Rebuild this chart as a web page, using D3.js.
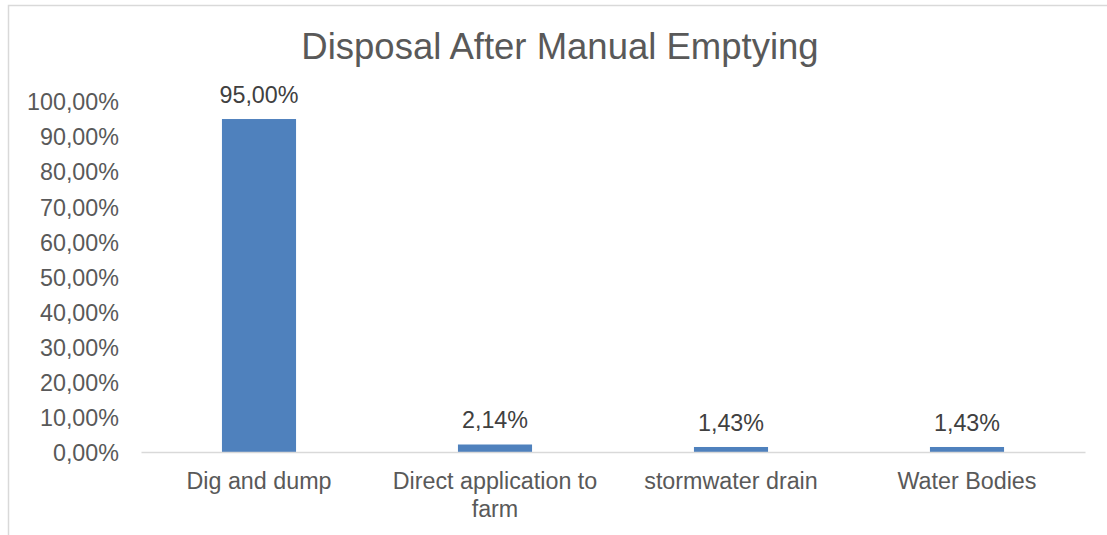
<!DOCTYPE html>
<html>
<head>
<meta charset="utf-8">
<script src="https://cdn.jsdelivr.net/npm/d3@7"></script>
<style>
  html, body { margin: 0; padding: 0; background: #fff; }
  svg { display: block; font-family: "Liberation Sans", Arial, sans-serif; }
</style>
</head>
<body>
<svg id="chart" width="1107" height="535"></svg>
<script>
// data
var categories = ["Dig and dump", "Direct application to farm", "stormwater drain", "Water Bodies"];
var values = [95.00, 2.14, 1.43, 1.43];
var yTicks = [0, 10, 20, 30, 40, 50, 60, 70, 80, 90, 100];
var title = "Disposal After Manual Emptying";

var W = 1107, H = 535;
var margin = {top: 101.5, right: 22, bottom: 83, left: 141};
var svg = d3.select("#chart");

// chart border (cut off on right and bottom)
svg.append("rect")
  .attr("x", 8.5).attr("y", 5.5)
  .attr("width", 1300).attr("height", 700)
  .attr("fill", "none")
  .attr("stroke", "#d9d9d9")
  .attr("stroke-width", 1.5);

var x = d3.scaleBand()
  .domain(categories)
  .range([margin.left, W - margin.right])
  .paddingInner(0.686)
  .paddingOuter(0.343);

var y = d3.scaleLinear()
  .domain([0, 100])
  .range([H - margin.bottom, margin.top]);

function fmt(v) { return v.toFixed(2).replace(".", ",") + "%"; }

// title
svg.append("text")
  .attr("x", 560).attr("y", 59)
  .attr("text-anchor", "middle")
  .attr("font-size", 36.5)
  .attr("fill", "#595959")
  .text(title);

// y axis labels (no line, no ticks)
var yAxis = d3.axisLeft(y).tickValues(yTicks).tickSize(0).tickPadding(22).tickFormat(fmt);
var ga = svg.append("g")
  .attr("transform", "translate(" + margin.left + ",0)")
  .call(yAxis);
ga.select(".domain").remove();
ga.selectAll("text")
  .attr("font-size", 23.3)
  .attr("font-family", "Liberation Sans, Arial, sans-serif")
  .attr("fill", "#595959")
  .attr("dy", "0.36em");

// bars
svg.append("g").selectAll("rect")
  .data(values)
  .enter().append("rect")
  .attr("x", function(d, i) { return x(categories[i]); })
  .attr("y", function(d) { return y(d); })
  .attr("width", x.bandwidth())
  .attr("height", function(d) { return y(0) - y(d); })
  .attr("fill", "#4f81bd");

// data labels
svg.append("g").selectAll("text")
  .data(values)
  .enter().append("text")
  .attr("x", function(d, i) { return x(categories[i]) + x.bandwidth() / 2; })
  .attr("y", function(d) { return y(d) - 16; })
  .attr("text-anchor", "middle")
  .attr("font-size", 23.3)
  .attr("fill", "#404040")
  .text(fmt);

// x axis line
var gx = svg.append("g")
  .attr("transform", "translate(0," + y(0) + ")")
  .call(d3.axisBottom(x).tickSize(0).tickPadding(0));
gx.select(".domain")
  .attr("stroke", "#d9d9d9")
  .attr("stroke-width", 1.5);
gx.selectAll(".tick text").remove();

// category labels, wrapped to the band width
var step = x.step();
categories.forEach(function(c) {
  var t = svg.append("text")
    .attr("x", x(c) + x.bandwidth() / 2)
    .attr("y", y(0) + 37)
    .attr("text-anchor", "middle")
    .attr("font-size", 23.3)
    .attr("fill", "#595959");
  var words = c.split(" "), line = [], lineNo = 0;
  var ts = t.append("tspan").attr("x", x(c) + x.bandwidth() / 2).attr("dy", 0);
  words.forEach(function(w) {
    line.push(w);
    ts.text(line.join(" "));
    if (ts.node().getComputedTextLength() > step - 14 && line.length > 1) {
      line.pop();
      ts.text(line.join(" "));
      line = [w];
      lineNo++;
      ts = t.append("tspan").attr("x", x(c) + x.bandwidth() / 2).attr("dy", 28).text(w);
    }
  });
});
</script>
</body>
</html>
